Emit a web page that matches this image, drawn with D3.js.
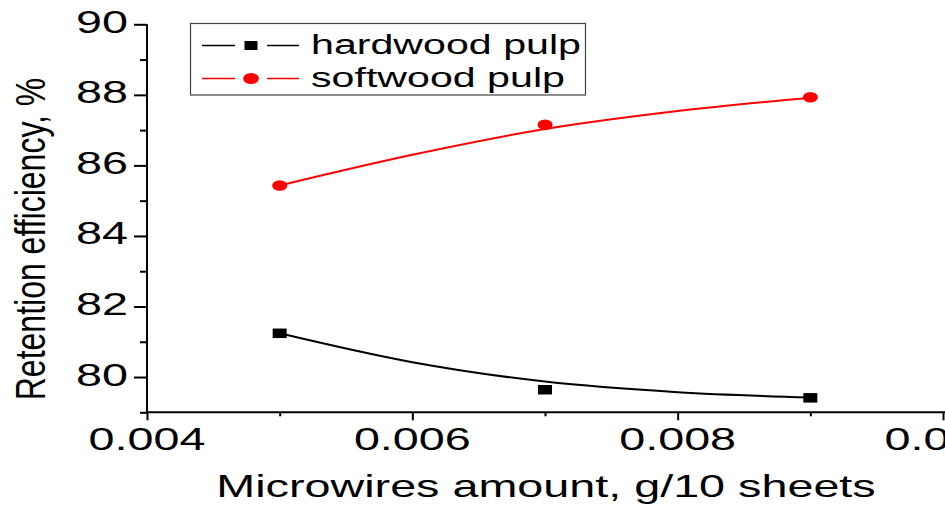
<!DOCTYPE html>
<html>
<head>
<meta charset="utf-8">
<script src="https://cdn.jsdelivr.net/npm/d3@7"></script>
<style>
  html, body { margin: 0; padding: 0; background: #fff; overflow: hidden; }
  svg { display: block; }
  text { font-family: "Liberation Sans", Arial, Helvetica, sans-serif; fill: #000; }
</style>
</head>
<body>
<svg id="chart" width="945" height="507"></svg>
<script>
// Measured points
const amounts = [0.005, 0.007, 0.009];
const hardwood = [81.24, 79.64, 79.41];
const softwood = [85.43, 87.15, 87.93];

// Fitted trend curves
const fitAmounts = [0.005, 0.006, 0.007, 0.008, 0.009];
const hardwoodFit = [81.24, 80.42, 79.87, 79.57, 79.42];
const softwoodFit = [85.43, 86.30, 87.03, 87.54, 87.92];

// Axis ticks
const xMajorTicks = [0.004, 0.006, 0.008, 0.010];
const xMinorTicks = [0.005, 0.007, 0.009];
const yMajorTicks = [80, 82, 84, 86, 88, 90];
const yMinorTicks = [79, 81, 83, 85, 87, 89];

const seriesNames = ["hardwood pulp", "softwood pulp"];
const seriesColors = ["#000000", "#ff0000"];

const svg = d3.select("#chart");
const stretch = 1.46;   // wide horizontal lettering

const x = d3.scaleLinear().domain([0.004, 0.010]).range([147, 943]);
const y = d3.scaleLinear().domain([79, 90]).range([412.3, 24.3]);

// Axes
const xAxisMajor = d3.axisBottom(x).tickValues(xMajorTicks).tickSize(8).tickFormat("");
const xAxisMinor = d3.axisBottom(x).tickValues(xMinorTicks).tickSize(4).tickFormat("");
const yAxisMajor = d3.axisLeft(y).tickValues(yMajorTicks).tickSize(13).tickFormat("");
const yAxisMinor = d3.axisLeft(y).tickValues(yMinorTicks).tickSize(7).tickFormat("");

function styleAxis(g) {
  g.selectAll("path.domain").attr("stroke", "#000").attr("stroke-width", 2);
  g.selectAll(".tick line").attr("stroke", "#000").attr("stroke-width", 2);
}

svg.append("g").attr("transform", `translate(0,${y(79)})`).call(xAxisMinor).call(styleAxis)
  .select("path.domain").remove();
svg.append("g").attr("transform", `translate(0,${y(79)})`).call(xAxisMajor).call(styleAxis)
  .select("path.domain").attr("d", `M${x(0.004)},0H950`);
svg.append("g").attr("transform", `translate(${x(0.004)},0)`).call(yAxisMinor).call(styleAxis)
  .select("path.domain").remove();
svg.append("g").attr("transform", `translate(${x(0.004)},0)`).call(yAxisMajor).call(styleAxis)
  .select("path.domain").attr("d", `M0,${y(90)}V${y(79) + 1}`);

// Tick labels
svg.append("g").selectAll("g").data(xMajorTicks).join("g")
  .attr("transform", d => `translate(${x(d)},450) scale(${stretch},1)`)
  .append("text").attr("text-anchor", "middle").attr("font-size", 32)
  .text(d => d3.format(".3f")(d));

svg.append("g").selectAll("g").data(yMajorTicks).join("g")
  .attr("transform", d => `translate(128,${y(d) + 8.5}) scale(${stretch},1)`)
  .append("text").attr("text-anchor", "end").attr("font-size", 32)
  .text(d => d);

// Axis titles
svg.append("g").attr("transform", `translate(546,497) scale(${stretch},1)`)
  .append("text").attr("text-anchor", "middle").attr("font-size", 32)
  .text("Microwires amount, g/10 sheets");

svg.append("g").attr("transform", `translate(45,239) scale(1.32,1) rotate(-90)`)
  .append("text").attr("text-anchor", "middle").attr("font-size", 32)
  .text("Retention efficiency, %");

// Fitted curves
const line = d3.line().x(d => x(d[0])).y(d => y(d[1])).curve(d3.curveMonotoneX);
const fits = [hardwoodFit, softwoodFit];
fits.forEach((vals, i) => {
  svg.append("path")
    .datum(fitAmounts.map((a, j) => [a, vals[j]]))
    .attr("d", line)
    .attr("fill", "none")
    .attr("stroke", seriesColors[i])
    .attr("stroke-width", 2);
});

// Markers
svg.append("g").selectAll("rect").data(amounts.map((a, j) => [a, hardwood[j]])).join("rect")
  .attr("x", d => x(d[0]) - 7).attr("y", d => y(d[1]) - 4.75)
  .attr("width", 14).attr("height", 9.5).attr("fill", seriesColors[0]);

svg.append("g").selectAll("ellipse").data(amounts.map((a, j) => [a, softwood[j]])).join("ellipse")
  .attr("cx", d => x(d[0])).attr("cy", d => y(d[1]))
  .attr("rx", 7.5).attr("ry", 5.3).attr("fill", seriesColors[1]);

// Legend
const legend = svg.append("g");
legend.append("rect").attr("x", 190.5).attr("y", 23.5).attr("width", 395).attr("height", 71.5)
  .attr("fill", "#fff").attr("stroke", "#444").attr("stroke-width", 1.2);

const rowY = [45.5, 78.5];
seriesNames.forEach((name, i) => {
  const row = legend.append("g").attr("transform", `translate(0,${rowY[i]})`);
  row.append("line").attr("x1", 202).attr("x2", 235).attr("y1", 0).attr("y2", 0)
    .attr("stroke", seriesColors[i]).attr("stroke-width", 1.5);
  row.append("line").attr("x1", 267).attr("x2", 299).attr("y1", 0).attr("y2", 0)
    .attr("stroke", seriesColors[i]).attr("stroke-width", 1.5);
  if (i === 0) {
    row.append("rect").attr("x", 244.5).attr("y", -4.5).attr("width", 13).attr("height", 9)
      .attr("fill", seriesColors[i]);
  } else {
    row.append("ellipse").attr("cx", 251).attr("cy", 0).attr("rx", 7.8).attr("ry", 5.5)
      .attr("fill", seriesColors[i]);
  }
  row.append("g").attr("transform", `translate(311,${8.5}) scale(1.47,1)`)
    .append("text").attr("font-size", 28).text(name);
});
</script>
</body>
</html>
